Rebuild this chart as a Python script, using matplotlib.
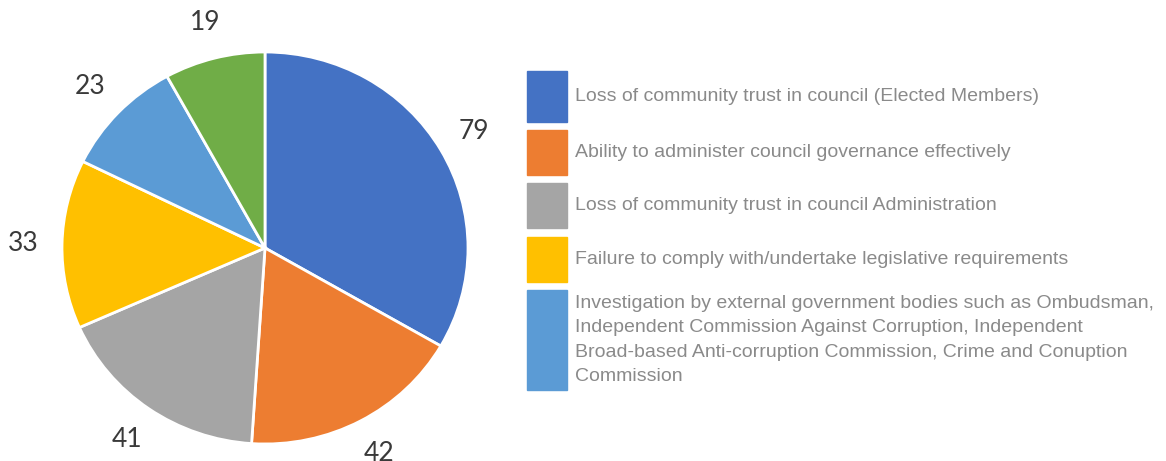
import matplotlib
matplotlib.use("Agg")
import numpy as np
import matplotlib.pyplot as plt
from matplotlib.patches import Rectangle

# Survey responses per risk category
values = [79, 42, 41, 33, 23, 19]
colors = ["#4472C4", "#ED7D31", "#A5A5A5", "#FFC000", "#5B9BD5", "#70AD47"]

legend_labels = [
    "Loss of community trust in council (Elected Members)",
    "Ability to administer council governance effectively",
    "Loss of community trust in council Administration",
    "Failure to comply with/undertake legislative requirements",
    "Investigation by external government bodies such as Ombudsman,\n"
    "Independent Commission Against Corruption, Independent\n"
    "Broad-based Anti-corruption Commission, Crime and Conuption\n"
    "Commission",
]
# legend box extents (top, bottom) in pixels
legend_boxes = [(71, 122), (130, 175), (183, 228), (237, 282), (290, 390)]

W, H = 1166, 461
fig = plt.figure(figsize=(W / 100, H / 100), dpi=100)

# pie axes: centre at (265, 248), slightly wider than tall
cx, cy, rx, ry = 265, 248, 203, 196
half = 1.3
ax = fig.add_axes([(cx - half * rx) / W, (H - cy - half * ry) / H,
                   2 * half * rx / W, 2 * half * ry / H])
wedges = ax.pie(
    values, colors=colors, startangle=90, counterclock=False,
    wedgeprops=dict(edgecolor="white", linewidth=2),
)[0]
for w, v in zip(wedges, values):
    ang = np.deg2rad((w.theta1 + w.theta2) / 2)
    r = 1.19
    ax.text(r * np.cos(ang), r * np.sin(ang), str(v), ha="center", va="center",
            fontsize=19, color="#3a3a3a", family="Lato")
ax.set_xlim(-half, half)
ax.set_ylim(-half, half)
ax.set_aspect("auto")
ax.axis("off")

# legend drawn in pixel coordinates
lax = fig.add_axes([0, 0, 1, 1])
lax.set_xlim(0, W)
lax.set_ylim(H, 0)
lax.axis("off")
for (top, bot), c, lab in zip(legend_boxes, colors, legend_labels):
    lax.add_patch(Rectangle((527, top), 40, bot - top, color=c))
    lax.text(575, (top + bot) / 2, lab, ha="left", va="center", fontsize=14,
             color="#8a8a8a", family="Liberation Sans", linespacing=1.55)

fig.savefig("out.png", dpi=100)
